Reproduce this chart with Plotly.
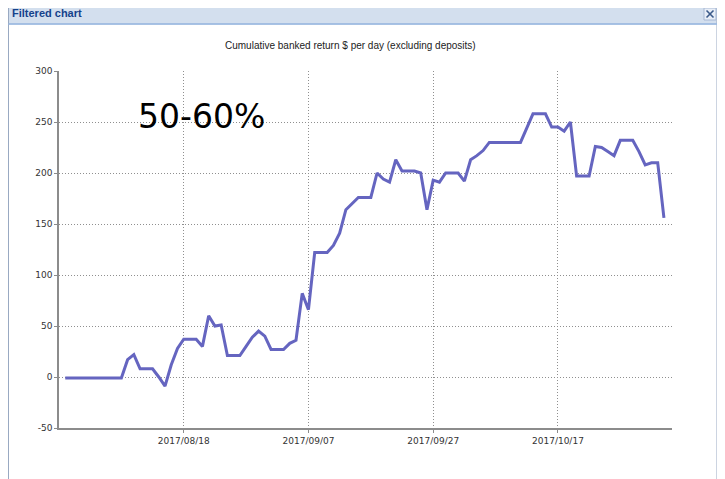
import pandas as pd
import plotly.graph_objects as go

# cumulative banked return per day
start_date = '2017-07-30'
returns = [
    -1, -1, -1, -1, -1, -1, -1, -1, -1, -1,
    17, 22, 8, 8, 8, 0, -9, 12, 28, 37,
    37, 37, 30, 60, 50, 51, 21, 21, 21, 30,
    39, 45, 40, 27, 27, 27, 33, 36, 82, 66,
    122, 122, 122, 129, 141, 164, 170, 176, 176, 176,
    200, 194, 191, 213, 202, 202, 202, 200, 164, 193,
    191, 200, 200, 200, 192, 213, 217, 222, 230, 230,
    230, 230, 230, 230, 244, 258, 258, 258, 245, 245,
    241, 250, 197, 197, 197, 226, 225, 221, 217, 232,
    232, 232, 221, 208, 210, 210, 156,
]
days = pd.date_range(start_date, periods = len(returns), freq = 'D')

tick_dates = ['2017-08-18', '2017-09-07', '2017-09-27', '2017-10-17']
y_ticks = [-50, 0, 50, 100, 150, 200, 250, 300]

# the page body has an 8px margin, so work in screen pixels and shift
OFF = 8
W, H = 725 - OFF, 479 - OFF
L, R, T, B = 59 - OFF, 725 - 672, 71 - OFF, 479 - 428
pw, ph = W - L - R, H - T - B

def px(x):
    return (x - OFF - L) / pw

def py(y):
    return (H - B - (y - OFF)) / ph

fig = go.Figure()
fig.add_trace(go.Scatter(
    x = days, y = returns, mode = 'lines',
    line = dict(color = '#6565c0', width = 3),
    hoverinfo = 'x+y'
))

shapes = []
# dialog body
shapes.append(dict(type = 'rect', xref = 'paper', yref = 'paper',
                   x0 = px(8.5), x1 = px(717), y0 = py(H + 20), y1 = py(3),
                   fillcolor = 'white', line = dict(color = '#99a9c2', width = 1), layer = 'below'))
# strip of the app showing on the right
shapes.append(dict(type = 'rect', xref = 'paper', yref = 'paper',
                   x0 = px(717.5), x1 = px(730), y0 = py(H + 20), y1 = py(0),
                   fillcolor = '#c5d3e4', line = dict(width = 0), layer = 'below'))
# title bar
shapes.append(dict(type = 'rect', xref = 'paper', yref = 'paper',
                   x0 = px(8.5), x1 = px(717), y0 = py(24), y1 = py(3),
                   fillcolor = '#d3dfee', line = dict(color = '#99a9c2', width = 1), layer = 'below'))
shapes.append(dict(type = 'line', xref = 'paper', yref = 'paper',
                   x0 = px(8.5), x1 = px(717), y0 = py(24), y1 = py(24),
                   line = dict(color = '#9dbde6', width = 1.5), layer = 'below'))
# close button
shapes.append(dict(type = 'rect', xref = 'paper', yref = 'paper',
                   x0 = px(704), x1 = px(716), y0 = py(20), y1 = py(8),
                   fillcolor = '#e8eef7', line = dict(color = '#a7b8d3', width = 1), layer = 'below'))
shapes.append(dict(type = 'line', xref = 'paper', yref = 'paper',
                   x0 = px(706.5), x1 = px(713.5), y0 = py(10.5), y1 = py(17.5),
                   line = dict(color = '#3b5a8a', width = 1.6)))
shapes.append(dict(type = 'line', xref = 'paper', yref = 'paper',
                   x0 = px(706.5), x1 = px(713.5), y0 = py(17.5), y1 = py(10.5),
                   line = dict(color = '#3b5a8a', width = 1.6)))

annotations = [
    dict(text = '<b>Filtered chart</b>', xref = 'paper', yref = 'paper',
         x = px(10), y = py(13), xanchor = 'left', yanchor = 'middle', showarrow = False,
         font = dict(family = 'Liberation Sans', size = 11, color = '#15428b')),
    dict(text = 'Cumulative banked return $ per day (excluding deposits)', xref = 'paper', yref = 'paper',
         x = px(350), y = py(45), xanchor = 'center', yanchor = 'middle', showarrow = False,
         font = dict(family = 'Liberation Sans', size = 10, color = '#222222')),
    dict(text = '50-60%', xref = 'paper', yref = 'paper',
         x = px(201), y = py(116), xanchor = 'center', yanchor = 'middle', showarrow = False,
         font = dict(family = 'DejaVu Sans', size = 33, color = 'black')),
]

fig.update_layout(
    width = W, height = H,
    margin = dict(l = L, r = R, t = T, b = B, pad = 0),
    paper_bgcolor = 'white', plot_bgcolor = 'white',
    showlegend = False,
    shapes = shapes,
    annotations = annotations,
    font = dict(family = 'DejaVu Sans', size = 9, color = '#333333')
)
fig.update_xaxes(
    type = 'date',
    range = ['2017-07-29 00:00', '2017-11-04 07:00'],
    tickvals = tick_dates, tickformat = '%Y/%m/%d',
    showgrid = True, gridcolor = '#8f8f8f', gridwidth = 1, griddash = '1px,2px',
    showline = True, linecolor = '#8c8c8c', linewidth = 1.5,
    ticks = 'outside', ticklen = 3, tickcolor = '#8c8c8c',
    zeroline = False
)
fig.update_yaxes(
    range = [-50, 300], tickvals = y_ticks, ticktext = [str(v) for v in y_ticks],
    showgrid = True, gridcolor = '#8f8f8f', gridwidth = 1, griddash = '1px,2px',
    showline = True, linecolor = '#8c8c8c', linewidth = 1.5,
    ticks = 'outside', ticklen = 3, tickcolor = '#8c8c8c',
    zeroline = False
)

fig.write_html("out.html")
